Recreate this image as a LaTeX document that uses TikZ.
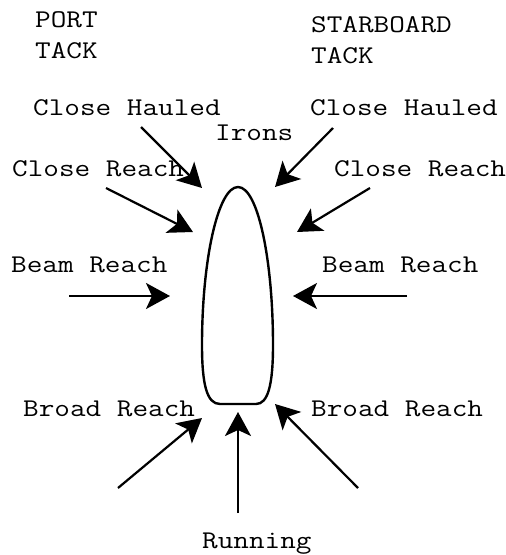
\documentclass[tikz,border=0pt]{standalone}
\usepackage{fontspec}
\usepackage{graphicx}
\usetikzlibrary{arrows.meta}
% widened typewriter lettering
\newcommand\widetype[1]{\scalebox{1.19}[1]{#1}}
\begin{document}
\begin{tikzpicture}[x=1pt,y=-1pt,
  lbl/.style={anchor=base west,inner sep=0pt,
    font=\ttfamily\fontsize{25.5}{30}\selectfont},
  wind/.style={line width=2.2pt,-{Stealth[length=24pt,width=26pt,inset=6pt]}},
  hull/.style={line width=2.4pt,line join=round}]
\useasboundingbox (0,0) rectangle (506,555);

% tack headings
\node[lbl] (port)  at (35,27)  {\widetype{PORT}};
\node[lbl] (ptack) at (35,58)  {\widetype{TACK}};
\node[lbl] (stbd)  at (311,32) {\widetype{STARBOARD}};
\node[lbl] (stack) at (311,63) {\widetype{TACK}};

% points of sail
\node[lbl] (chl) at (33,115)  {\widetype{Close Hauled}};
\node[lbl] (chr) at (310,115) {\widetype{Close Hauled}};
\node[lbl] (irons) at (215,140) {\widetype{Irons}};
\node[lbl] (crl) at (12,176)  {\widetype{Close Reach}};
\node[lbl] (crr) at (334,176) {\widetype{Close Reach}};
\node[lbl] (brl) at (11,272)  {\widetype{Beam Reach}};
\node[lbl] (brr) at (322,272) {\widetype{Beam Reach}};
\node[lbl] (bdl) at (23,416)  {\widetype{Broad Reach}};
\node[lbl] (bdr) at (311,416) {\widetype{Broad Reach}};
\node[lbl] (run) at (202,548) {\widetype{Running}};

% the hull
\draw[hull] (220,404) -- (256,404)
  .. controls (268,404) and (273,385) .. (273,345)
  .. controls (273,260) and (258,187) .. (238,187)
  .. controls (218,187) and (202,260) .. (202,345)
  .. controls (202,385) and (207,404) .. (220,404) -- cycle;

% wind arrow ends
\coordinate (chlA) at (141,127); \coordinate (chlB) at (202,188);
\coordinate (chrA) at (333,128); \coordinate (chrB) at (275,187);
\coordinate (crlA) at (106,188); \coordinate (crlB) at (193,232);
\coordinate (crrA) at (370,188); \coordinate (crrB) at (297,232);
\coordinate (brlA) at (69,296);  \coordinate (brlB) at (170,296);
\coordinate (brrA) at (407,296); \coordinate (brrB) at (293,296);
\coordinate (bdlA) at (118,488); \coordinate (bdlB) at (202,418);
\coordinate (runA) at (238,513); \coordinate (runB) at (238,412);
\coordinate (bdrA) at (358,488); \coordinate (bdrB) at (275,404);

\foreach \w in {chl,chr,crl,crr,brl,brr,bdl,run,bdr}
  \draw[wind] (\w A) -- (\w B);
\end{tikzpicture}
\end{document}
